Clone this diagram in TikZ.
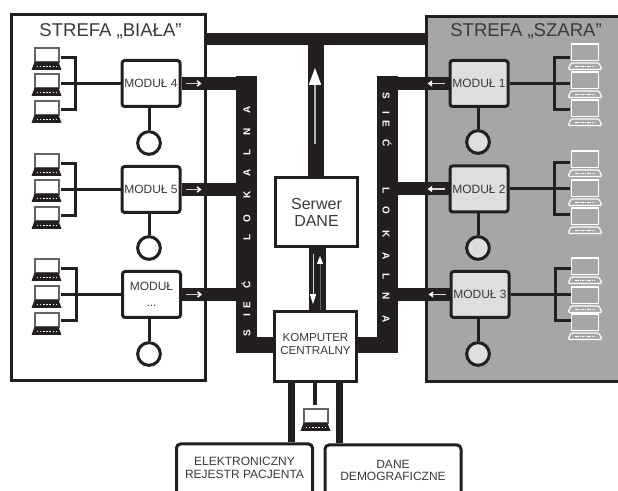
\documentclass[tikz,border=0pt]{standalone}
\usepackage{fontspec}
\setmainfont{Liberation Sans}
\usepackage{tikz}
\usetikzlibrary{positioning, arrows.meta, backgrounds}
\definecolor{ciemny}{HTML}{231F20}
\definecolor{szary}{HTML}{A6A6A5}
\definecolor{jasny}{HTML}{DEDEDE}
\definecolor{tekst}{HTML}{3A3A3A}
% odstepy jak na szynie
\newcommand{\sieclokalna}{S\kern9.7pt I\kern4pt E\kern9.6pt Ć \kern28.5pt L\kern9.25pt O\kern12.25pt K\kern11.35pt A\kern10.2pt L\kern9.85pt N\kern11.7pt A}

\tikzset{
  pics/ciemnylaptop/.style={code={
    \draw[draw=ciemny!70, line width=1.5pt, fill=white] (-12,1) rectangle (12,15);
    \fill[ciemny] (-12,15) -- (12,15) -- (15,23) -- (-15,23) -- cycle;
    \draw[white, line width=0.7pt, dash pattern=on 1.2pt off 1.2pt] (-10,19.5) -- (10,19.5);
  }},
  pics/jasnylaptop/.style={code={
    \draw[white, line width=1.2pt, fill=szary] (-13.5,1) rectangle (13.5,17.5);
    \draw[white, line width=0.9pt, fill=szary, rounded corners=1pt] (-14,20) -- (14,20) -- (17,26.5) -- (-17,26.5) -- cycle;
    \draw[white, line width=0.6pt, dash pattern=on 1.2pt off 0.6pt] (-10,23.5) -- (10,23.5);
  }}
}

\begin{document}
\begin{tikzpicture}[x=0.75pt, y=-0.75pt,
    strefa/.style={draw=ciemny, line width=2.25pt},
    modul/.style={draw=ciemny, line width=2.25pt, rectangle, rounded corners=2pt, fill=white,
      minimum width=43.5pt, minimum height=34.5pt, inner sep=0pt, align=center,
      text=tekst, font=\fontsize{9}{11}\selectfont},
    kolo/.style={draw=ciemny, line width=2.25pt, circle, fill=white, minimum size=17pt, inner sep=0pt},
    blok/.style={draw=ciemny, line width=2.25pt, rectangle, fill=white, inner sep=0pt, align=center, text=tekst},
    baza/.style={blok, rounded corners=3pt, minimum width=102pt, minimum height=46.5pt},
    bazanapis/.style={inner sep=0pt, align=center, text=tekst, font=\fontsize{9}{9.6}\selectfont},
    szyna/.style={ciemny, line width=15.75pt},
    pasek/.style={ciemny, line width=9.75pt},
    drut/.style={ciemny, line width=2.25pt},
    tytul/.style={inner sep=0pt, text=tekst, font=\fontsize{13.9}{16}\selectfont},
    napis/.style={inner sep=0pt, text=white, font=\fontsize{7.5}{8}\selectfont\bfseries},
    strzalkaL/.style={line width=1.1pt, draw=black!20, -{Straight Barb[color=white, length=2.5pt, width=4pt]}},
    strzalkaP/.style={line width=1.2pt, draw=black!15, -{Triangle[color=white, length=3.5pt, width=4.5pt]}},
    grot/.style={line width=1.2pt, draw=black!30, -{Triangle[color=white, length=12.75pt, width=9pt]}}
  ]
  \useasboundingbox (0,0) rectangle (618,491);
  \clip (0,0) rectangle (618,491);

  \node[tytul] (biala) at (110.5,31) {STREFA „BIAŁA”};
  \node[tytul] (szara) at (526,31) {STREFA „SZARA”};

  % wezly
  \node[modul] (modul4) at (151,83.5) {MODUŁ 4};
  \node[modul] (modul5) at (151,189.5) {MODUŁ 5};
  \node[modul] (modulx) at (151.5,294.5) {MODUŁ\\[1pt]...};
  \node[modul, fill=jasny] (modul1) at (479,83.5) {MODUŁ 1};
  \node[modul, fill=jasny] (modul2) at (479,189) {MODUŁ 2};
  \node[modul, fill=jasny] (modul3) at (480,294.5) {MODUŁ 3};

  \node[kolo] (kolo4) at (149,143) {};
  \node[kolo] (kolo5) at (149,248) {};
  \node[kolo] (kolox) at (149,354) {};
  \node[kolo, fill=jasny] (kolo1) at (478,142) {};
  \node[kolo, fill=jasny] (kolo2) at (478,248) {};
  \node[kolo, fill=jasny] (kolo3) at (478,354) {};

  \node[blok, minimum width=61.5pt, minimum height=52pt, font=\fontsize{12}{12.8}\selectfont] (serwer) at (316.5,212) {Serwer\\DANE};
  \node[blok, minimum width=61.5pt, minimum height=52.5pt, text depth=4pt, font=\fontsize{8.7}{9.4}\selectfont] (komputer) at (315.5,346.5) {KOMPUTER\\CENTRALNY};
  \node[baza] (rejestr) at (244.5,475) {};
  \node[baza] (dane) at (393,476) {};
  \node[bazanapis, below=11pt of rejestr.north] (rejestrnapis) {ELEKTRONICZNY\\REJESTR PACJENTA};
  \node[bazanapis, below=12pt of dane.north] (danenapis) {DANE\\DEMOGRAFICZNE};

  \begin{scope}[on background layer]
    % strefy
    \draw[strefa, fill=white] (11.5,15) rectangle (205,381);
    \draw[strefa, fill=szary] (426,16.5) rectangle (630,382);

    % szyny
    \coordinate (szynaL) at (246.5,76);
    \coordinate (szynaP) at (387,76);
    \draw[szyna] (szynaL) -- (246.5,353);
    \draw[szyna] (szynaP) -- (387,353);
    \draw[ciemny, line width=9pt] (205,39) -- (426,39);
    \draw[ciemny, line width=12pt] (316,33) -- (serwer.north -| 316,0);
    \draw[ciemny, line width=12.75pt] (serwer.south -| 317.5,0) -- (komputer.north -| 317.5,0);
    \draw[ciemny, line width=12pt] (komputer.west |- 0,345) -- (246.5,345);
    \draw[ciemny, line width=12pt] (komputer.east |- 0,345) -- (387,345);
    \foreach \nazwa in {modul4, modul5, modulx} {
      \draw[pasek] (\nazwa.east) -- (\nazwa.east -| szynaL);
    }
    \foreach \nazwa in {modul1, modul2, modul3} {
      \draw[pasek] (\nazwa.west) -- (\nazwa.west -| szynaP);
    }

    % polaczenia
    \foreach \modul/\kolo in {modul4/kolo4, modul5/kolo5, modulx/kolox, modul1/kolo1, modul2/kolo2, modul3/kolo3} {
      \draw[drut] (\modul.south -| \kolo) -- (\kolo);
    }
    \foreach \nazwa in {modul4, modul5, modulx} {
      \draw[drut] (\nazwa.west) -- ++(-60,0);
      \draw[drut] (\nazwa.west) ++(-60,-26) -- ++(15,0) -- ++(0,52) -- ++(-15,0);
    }
    \foreach \nazwa in {modul1, modul2, modul3} {
      \draw[drut] (\nazwa.east) -- ++(60,0);
      \draw[drut] (\nazwa.east) ++(60,-26) -- ++(-15,0) -- ++(0,52) -- ++(15,0);
    }

    % dol
    \draw[ciemny, line width=2.7pt] (komputer.south -| 315,0) -- (315,405);
    \draw[ciemny, line width=5.25pt] (komputer.south -| 291,0) -- (rejestr.north -| 291,0);
    \draw[ciemny, line width=5.25pt] (komputer.south -| 339.5,0) -- (dane.north -| 339.5,0);
  \end{scope}

  % strzalki
  \foreach \nazwa in {modul4, modul5, modulx} {
    \draw[strzalkaL] ([xshift=3pt]\nazwa.east) -- ++(16,0);
  }
  \foreach \nazwa in {modul1, modul2, modul3} {
    \draw[strzalkaP] ([xshift=-3pt]\nazwa.west) -- ++(-17,0);
  }
  \draw[grot] ([yshift=24pt]serwer.north -| 315,0) -- ++(0,-76);
  \draw[line width=0.75pt, draw=black!15, -{Triangle[color=white, length=7.5pt, width=4.5pt]}] (serwer.south -| 313,0) ++(0,6) -- ++(0,50);
  \draw[line width=0.75pt, draw=black!60, -{Triangle[color=white, length=6pt, width=4.5pt]}] (komputer.north -| 320,0) -- ++(0,-54);

  \node[napis, rotate=90] (siecL) at (246,221) {\sieclokalna};
  \node[napis, rotate=-90] (siecP) at (387,207.5) {\sieclokalna};

  % laptopy
  \foreach \y in {47, 73, 100, 153, 179, 206, 258, 285, 312} {
    \pic at (46.5,\y) {ciemnylaptop};
  }
  \foreach \y in {43, 71, 99, 150, 179, 207, 257, 286, 313} {
    \pic at (585,\y) {jasnylaptop};
  }
  \pic at (315.5,408) {ciemnylaptop};
\end{tikzpicture}
\end{document}
